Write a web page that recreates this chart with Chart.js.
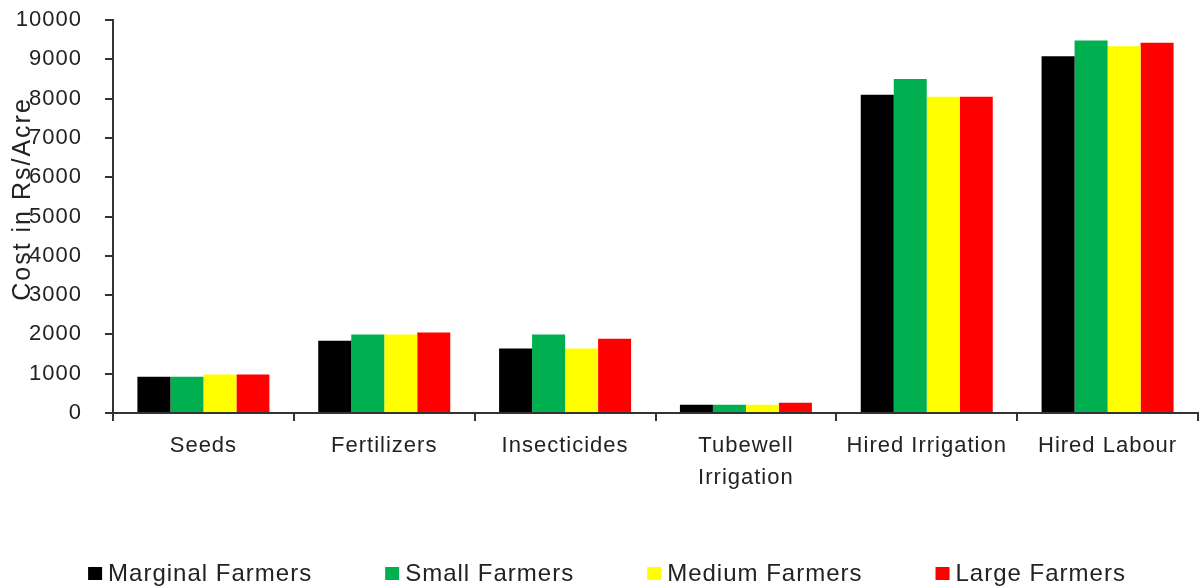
<!DOCTYPE html>
<html>
<head>
<meta charset="utf-8">
<title>Cost of Inputs by Farm Size</title>
<script src="https://cdn.jsdelivr.net/npm/chart.js@4"></script>
<style>
  html, body { margin: 0; padding: 0; background: #fff; }
  #wrap { width: 1204px; height: 588px; }
</style>
</head>
<body>
<div id="wrap"><canvas id="costChart" width="1204" height="588"></canvas></div>
<script>
const categories = ["Seeds", "Fertilizers", "Insecticides", ["Tubewell", "Irrigation"], "Hired Irrigation", "Hired Labour"];
const marginalFarmers = [920, 1840, 1640, 210, 8100, 9080];
const smallFarmers = [920, 2000, 2000, 210, 8500, 9480];
const mediumFarmers = [980, 2000, 1640, 210, 8050, 9330];
const largeFarmers = [980, 2050, 1890, 260, 8050, 9420];
const yTicks = [0, 1000, 2000, 3000, 4000, 5000, 6000, 7000, 8000, 9000, 10000];

const FONT = '"Liberation Sans", Arial, sans-serif';
const TEXT = "#222";
const AXIS = "#333";

// spaced-out lettering for everything drawn on the canvas
const spacing = {
  id: "spacing",
  beforeDraw(chart) {
    chart.ctx.letterSpacing = "1px";
  }
};

// rotated y title, sits over the tick numbers
const yTitle = {
  id: "yTitle",
  afterDraw(chart) {
    const ctx = chart.ctx;
    ctx.save();
    ctx.letterSpacing = "2px";
    ctx.font = "25px " + FONT;
    ctx.fillStyle = TEXT;
    ctx.textAlign = "center";
    ctx.textBaseline = "middle";
    ctx.translate(23, 199);
    ctx.rotate(-Math.PI / 2);
    ctx.fillText("Cost in Rs/Acre", 0, 0);
    ctx.restore();
  }
};

// legend row along the bottom
const bottomLegend = {
  id: "bottomLegend",
  afterDraw(chart) {
    const ctx = chart.ctx;
    ctx.save();
    ctx.letterSpacing = "1px";
    ctx.font = "24px " + FONT;
    ctx.textBaseline = "middle";
    const items = chart.data.datasets.map(ds => ({
      label: ds.label,
      color: ds.backgroundColor,
      w: 20 + ctx.measureText(ds.label).width
    }));
    const gap = 73;
    const total = items.reduce((s, it) => s + it.w, 0) + gap * (items.length - 1);
    let x = (chart.width - total) / 2 + 5;
    const y = 574;
    items.forEach(it => {
      ctx.fillStyle = it.color;
      ctx.fillRect(x, y - 7, 14, 13);
      ctx.fillStyle = TEXT;
      ctx.fillText(it.label, x + 20, y);
      x += it.w + gap;
    });
    ctx.restore();
  }
};

const ctx = document.getElementById("costChart").getContext("2d");

new Chart(ctx, {
  type: "bar",
  data: {
    labels: categories,
    datasets: [
      { label: "Marginal Farmers", data: marginalFarmers, backgroundColor: "#000000" },
      { label: "Small Farmers", data: smallFarmers, backgroundColor: "#00B050" },
      { label: "Medium Farmers", data: mediumFarmers, backgroundColor: "#FFFF00" },
      { label: "Large Farmers", data: largeFarmers, backgroundColor: "#FF0000" }
    ]
  },
  options: {
    responsive: false,
    animation: false,
    devicePixelRatio: 1,
    layout: { padding: { top: 20, right: 6, bottom: 0, left: 0 } },
    datasets: {
      bar: { categoryPercentage: 0.73, barPercentage: 1.0, borderWidth: 0 }
    },
    plugins: {
      legend: { display: false },
      tooltip: { enabled: false },
      title: { display: false }
    },
    scales: {
      x: {
        offset: true,
        afterFit(scale) { scale.height = 175; },
        grid: {
          display: true,
          offset: true,
          drawOnChartArea: false,
          drawTicks: true,
          tickLength: 8,
          color: AXIS,
          lineWidth: 2
        },
        border: { display: true, color: AXIS, width: 2 },
        ticks: {
          color: TEXT,
          padding: 9,
          maxRotation: 0,
          autoSkip: false,
          font: { family: FONT, size: 22, lineHeight: 1.45 }
        }
      },
      y: {
        min: 0,
        max: 10000,
        afterFit(scale) {
          scale.width = 113;
          // the wide label gap shouldn't push the plot down
          scale.paddingTop = 0;
          scale.paddingBottom = 0;
        },
        afterBuildTicks(scale) { scale.ticks = yTicks.map(v => ({ value: v })); },
        grid: {
          display: true,
          drawOnChartArea: false,
          drawTicks: true,
          tickLength: 8,
          color: AXIS,
          lineWidth: 2
        },
        border: { display: true, color: AXIS, width: 2 },
        ticks: {
          color: TEXT,
          padding: 23,
          callback: v => String(v),
          font: { family: FONT, size: 22 }
        }
      }
    }
  },
  plugins: [spacing, yTitle, bottomLegend]
});
</script>
</body>
</html>
